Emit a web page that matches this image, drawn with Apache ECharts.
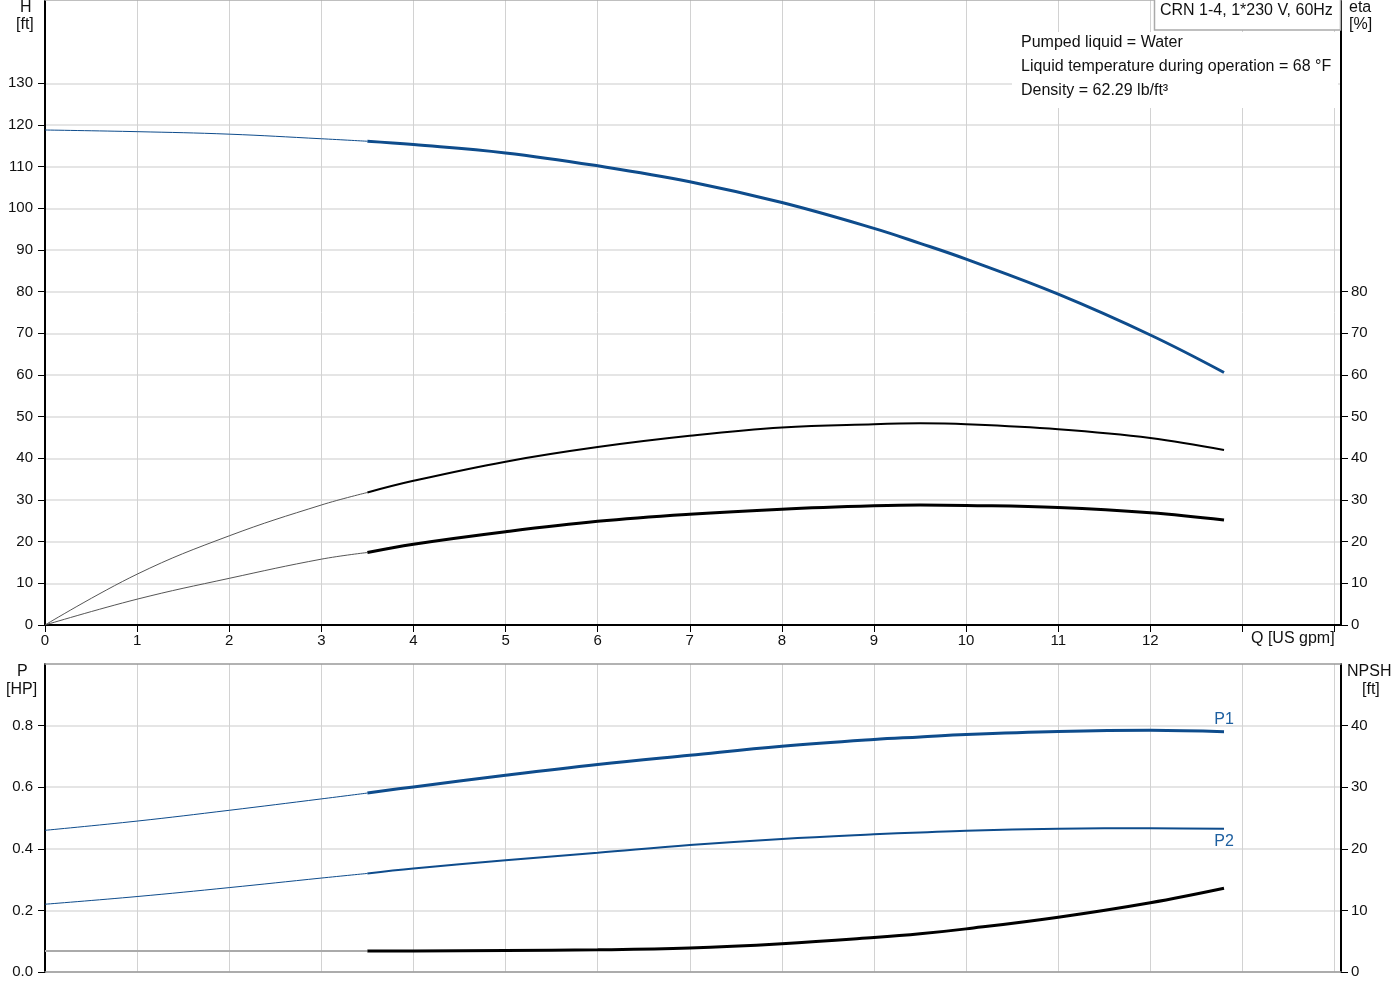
<!DOCTYPE html>
<html>
<head>
<meta charset="utf-8">
<title>CRN 1-4 pump curve</title>
<script src="https://cdn.jsdelivr.net/npm/echarts@6/dist/echarts.min.js"></script>
<style>
  html, body { margin: 0; padding: 0; background: #fff; }
  #chart { width: 1400px; height: 1000px; }
</style>
</head>
<body>
<div id="chart"></div>
<script>
// flow points, thin part (outside operating range) and thick part
const qThin = [0, 1, 2, 3, 3.5];
const qThick = [3.5, 4, 5, 6, 7, 8, 9, 9.5, 10, 11, 12, 12.8];

// head [ft]
const headThin = [118.8, 118.4, 117.8, 116.7, 116.1];
const headThick = [116.1, 115.3, 113.3, 110.2, 106.4, 101.4, 95.2, 91.6, 87.8, 79.4, 69.6, 60.6];
// efficiency [%] (pump and total)
const etaPThin = [0, 12.2, 21.4, 28.8, 31.8];
const etaPThick = [31.8, 34.6, 39.2, 42.7, 45.4, 47.4, 48.2, 48.4, 48.2, 47.0, 44.9, 42.0];
const etaTThin = [0, 6.2, 11.2, 15.8, 17.4];
const etaTThick = [17.4, 19.4, 22.4, 24.9, 26.6, 27.8, 28.6, 28.8, 28.7, 28.2, 26.95, 25.2];
// power [HP]
const p1Thin = [0.46, 0.49, 0.525, 0.562, 0.581];
const p1Thick = [0.581, 0.601, 0.639, 0.674, 0.704, 0.733, 0.755, 0.763, 0.771, 0.781, 0.785, 0.780];
const p2Thin = [0.22, 0.245, 0.274, 0.305, 0.32];
const p2Thick = [0.32, 0.336, 0.363, 0.387, 0.412, 0.432, 0.447, 0.453, 0.459, 0.465, 0.467, 0.465];
// NPSH [ft]
const npshThin = [3.4, 3.4, 3.4, 3.4, 3.4];
const npshThick = [3.4, 3.4, 3.5, 3.6, 3.9, 4.6, 5.6, 6.2, 7.0, 8.9, 11.25, 13.6];

// tick labels
const qTicks = [0, 1, 2, 3, 4, 5, 6, 7, 8, 9, 10, 11, 12, 13, 14];
const qLabels = [0, 1, 2, 3, 4, 5, 6, 7, 8, 9, 10, 11, 12];
const hLabels = [0, 10, 20, 30, 40, 50, 60, 70, 80, 90, 100, 110, 120, 130];
const etaLabels = [0, 10, 20, 30, 40, 50, 60, 70, 80];
const pLabels = [0, 0.2, 0.4, 0.6, 0.8];
const npshLabels = [0, 10, 20, 30, 40];

const FONT = 'Liberation Sans, Arial, sans-serif';
const BLUE = '#0e4c8c';
const TXT = '#111';

function pairs(q, v) {
    return q.map(function (x, i) { return [x, v[i]]; });
}

// last point gets a text label (P1 / P2)
function withEndLabel(data, text, pos) {
    let last = data[data.length - 1];
    data[data.length - 1] = {
        value: last,
        label: { show: true, formatter: text, position: pos, distance: 4,
                 color: '#1d5fa0', fontSize: 16, fontFamily: FONT }
    };
    return data;
}

function line(xi, yi, data, color, width) {
    return {
        type: 'line', xAxisIndex: xi, yAxisIndex: yi, data: data,
        smooth: 0.4, symbol: 'none', showSymbol: false,
        lineStyle: { color: color, width: width }
    };
}

// same line but keeps (invisible) symbols so the end label can show
function labelledLine(xi, yi, data, color, width) {
    let s = line(xi, yi, data, color, width);
    s.symbol = 'circle';
    s.symbolSize = 1;
    s.showSymbol = true;
    s.showAllSymbol = true;
    s.itemStyle = { color: 'rgba(0,0,0,0)', borderWidth: 0 };
    s.labelLayout = { hideOverlap: false };
    return s;
}

let myChart = echarts.init(document.getElementById('chart'));

let xBase = { type: 'value', min: 0, max: 14.07, interval: 1 };
let yTick = { length: 7, lineStyle: { color: '#000', width: 1 } };
let labelStyle = { fontSize: 15, color: TXT, fontFamily: FONT };
let blackLine = { show: true, onZero: false, lineStyle: { color: '#000', width: 2 } };

let option = {
    animation: false,
    backgroundColor: '#fff',
    grid: [
        { left: 45, top: 0, width: 1296, height: 625 },
        { left: 45, top: 664, width: 1296, height: 308 }
    ],
    xAxis: [
        Object.assign({}, xBase, {
            gridIndex: 0,
            axisLine: blackLine,
            axisTick: { customValues: qTicks, length: 7, lineStyle: { color: '#000' } },
            axisLabel: Object.assign({ customValues: qLabels, margin: 8 }, labelStyle),
            splitLine: { show: true, lineStyle: { color: '#d2d2d2', width: 1 } }
        }),
        Object.assign({}, xBase, {
            gridIndex: 1,
            axisLine: { onZero: false, lineStyle: { color: '#999', width: 1.5 } },
            axisTick: { show: false },
            axisLabel: { show: false },
            splitLine: { show: true, lineStyle: { color: '#d2d2d2', width: 1 } }
        }),
        // top borders of both plots
        Object.assign({}, xBase, {
            gridIndex: 0, position: 'top',
            axisLine: { onZero: false, lineStyle: { color: '#aaa', width: 1.5 } },
            axisTick: { show: false }, axisLabel: { show: false }, splitLine: { show: false }
        }),
        Object.assign({}, xBase, {
            gridIndex: 1, position: 'top',
            axisLine: { onZero: false, lineStyle: { color: '#999', width: 1.5 } },
            axisTick: { show: false }, axisLabel: { show: false }, splitLine: { show: false }
        })
    ],
    yAxis: [
        {
            type: 'value', gridIndex: 0, position: 'left', min: 0, max: 150, interval: 10,
            axisLine: blackLine,
            axisTick: Object.assign({ customValues: hLabels }, yTick),
            axisLabel: Object.assign({ customValues: hLabels, margin: 12 }, labelStyle),
            splitLine: { show: true, lineStyle: { color: '#dcdcdc', width: 1.5 } }
        },
        {
            type: 'value', gridIndex: 0, position: 'right', min: 0, max: 150, interval: 10,
            axisLine: blackLine,
            axisTick: Object.assign({ customValues: etaLabels }, yTick),
            axisLabel: Object.assign({ customValues: etaLabels, margin: 10 }, labelStyle),
            splitLine: { show: false }
        },
        {
            type: 'value', gridIndex: 1, position: 'left', min: 0, max: 1, interval: 0.2,
            axisLine: blackLine,
            axisTick: Object.assign({ customValues: pLabels }, yTick),
            axisLabel: Object.assign({
                customValues: pLabels, margin: 12,
                formatter: function (v) { return v.toFixed(1); }
            }, labelStyle),
            splitLine: { show: true, lineStyle: { color: '#dcdcdc', width: 1.5 } }
        },
        {
            type: 'value', gridIndex: 1, position: 'right', min: 0, max: 50, interval: 10,
            axisLine: blackLine,
            axisTick: Object.assign({ customValues: npshLabels }, yTick),
            axisLabel: Object.assign({ customValues: npshLabels, margin: 10 }, labelStyle),
            splitLine: { show: false }
        }
    ],
    series: [
        line(0, 0, pairs(qThin, headThin), BLUE, 1),
        line(0, 0, pairs(qThick, headThick), BLUE, 3),
        line(0, 1, pairs(qThin, etaPThin), '#555', 1),
        line(0, 1, pairs(qThick, etaPThick), '#000', 2),
        line(0, 1, pairs(qThin, etaTThin), '#555', 1),
        line(0, 1, pairs(qThick, etaTThick), '#000', 3),
        line(1, 2, pairs(qThin, p1Thin), BLUE, 1),
        labelledLine(1, 2, withEndLabel(pairs(qThick, p1Thick), 'P1', 'top'), BLUE, 3),
        line(1, 2, pairs(qThin, p2Thin), BLUE, 1),
        labelledLine(1, 2, withEndLabel(pairs(qThick, p2Thick), 'P2', 'bottom'), BLUE, 2),
        line(1, 3, pairs(qThin, npshThin), '#aaa', 2),
        line(1, 3, pairs(qThick, npshThick), '#000', 3)
    ],
    graphic: [
        // axis names
        { type: 'text', left: 20, top: 0, style: { text: 'H', font: '16px ' + FONT, fill: TXT } },
        { type: 'text', left: 16, top: 17, style: { text: '[ft]', font: '16px ' + FONT, fill: TXT } },
        { type: 'text', left: 1349, top: 0, style: { text: 'eta', font: '16px ' + FONT, fill: TXT } },
        { type: 'text', left: 1349, top: 17, style: { text: '[%]', font: '16px ' + FONT, fill: TXT } },
        { type: 'text', left: 17, top: 664, style: { text: 'P', font: '16px ' + FONT, fill: TXT } },
        { type: 'text', left: 6, top: 682, style: { text: '[HP]', font: '16px ' + FONT, fill: TXT } },
        { type: 'text', left: 1347, top: 664, style: { text: 'NPSH', font: '16px ' + FONT, fill: TXT } },
        { type: 'text', left: 1362, top: 682, style: { text: '[ft]', font: '16px ' + FONT, fill: TXT } },
        { type: 'text', left: 1251, top: 631, style: { text: 'Q [US gpm]', font: '16px ' + FONT, fill: TXT } },
        // title box
        {
            type: 'rect', z: 100, shape: { x: 1154.5, y: -1, width: 186, height: 31 },
            style: { fill: '#fff', stroke: '#aaa', lineWidth: 1.5 }
        },
        { type: 'text', z: 101, left: 1160, top: 3, style: { text: 'CRN 1-4, 1*230 V, 60Hz', font: '16px ' + FONT, fill: TXT } },
        // liquid info
        {
            type: 'rect', z: 100, shape: { x: 1012, y: 32, width: 326, height: 76 },
            style: { fill: '#fff' }
        },
        { type: 'text', z: 101, left: 1021, top: 35, style: { text: 'Pumped liquid = Water', font: '16px ' + FONT, fill: TXT } },
        { type: 'text', z: 101, left: 1021, top: 59, style: { text: 'Liquid temperature during operation = 68 °F', font: '16px ' + FONT, fill: TXT } },
        { type: 'text', z: 101, left: 1021, top: 83, style: { text: 'Density = 62.29 lb/ft³', font: '16px ' + FONT, fill: TXT } }
    ]
};
myChart.setOption(option);
</script>
</body>
</html>
